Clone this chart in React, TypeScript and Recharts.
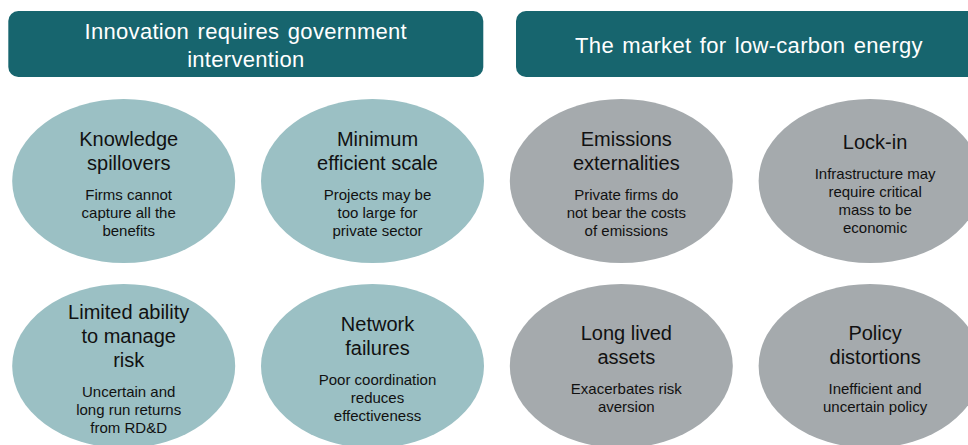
import { ScatterChart, Scatter, XAxis, YAxis, ReferenceArea } from "recharts";

// two groups of market failures, four ovals each
const groupLines = [
  ["Innovation requires government", "intervention"],
  ["The market for low-carbon energy"],
];

const causeTitles = [
  ["Knowledge", "spillovers"],
  ["Minimum", "efficient scale"],
  ["Emissions", "externalities"],
  ["Lock-in"],
  ["Limited ability", "to manage", "risk"],
  ["Network", "failures"],
  ["Long lived", "assets"],
  ["Policy", "distortions"],
];

const causeNotes = [
  ["Firms cannot", "capture all the", "benefits"],
  ["Projects may be", "too large for", "private sector"],
  ["Private firms do", "not bear the costs", "of emissions"],
  ["Infrastructure may", "require critical", "mass to be", "economic"],
  ["Uncertain and", "long run returns", "from RD&D"],
  ["Poor coordination", "reduces", "effectiveness"],
  ["Exacerbates risk", "aversion"],
  ["Inefficient and", "uncertain policy"],
];

const causeGroup = [0, 0, 1, 1, 0, 0, 1, 1];
const causeCol = [0, 1, 2, 3, 0, 1, 2, 3];
const causeRow = [0, 0, 0, 0, 1, 1, 1, 1];

const data = causeTitles.map((title, i) => ({
  col: causeCol[i],
  row: causeRow[i],
  title,
  note: causeNotes[i],
  group: causeGroup[i],
}));

const FONT = "'Liberation Sans', Arial, sans-serif";
const HEADER = "#17656e";
const TEAL = "#9bc0c4";
const GREY = "#a5aaad";

function CauseShape(props: any) {
  const { cx, cy, payload, fill } = props;
  const title: string[] = payload.title;
  const note: string[] = payload.note;
  const span = (title.length - 1) * 24 + 30 + (note.length - 1) * 18;
  const first = cy + 9.5 - span / 2;
  const tx = cx + 5;
  return (
    <g>
      <ellipse cx={cx} cy={cy} rx={111.5} ry={82} fill={fill} />
      {title.map((t, i) => (
        <text key={"t" + i} x={tx} y={first + i * 24} textAnchor="middle" fontFamily={FONT} fontSize={20} fill="#111">
          {t}
        </text>
      ))}
      {note.map((t, i) => (
        <text
          key={"n" + i}
          x={tx}
          y={first + (title.length - 1) * 24 + 30 + i * 18}
          textAnchor="middle"
          fontFamily={FONT}
          fontSize={15}
          fill="#111"
        >
          {t}
        </text>
      ))}
    </g>
  );
}

function headerShape(lines: string[]) {
  return (props: any) => {
    const { x, y, width, height } = props;
    const mid = y + height / 2;
    const start = mid + 8.8 - ((lines.length - 1) * 27.7) / 2;
    return (
      <g>
        <rect x={x} y={y} width={width} height={height} rx={10} fill={HEADER} />
        {lines.map((l, i) => (
          <text
            key={i}
            x={x + width / 2}
            y={start + i * 27.7}
            textAnchor="middle"
            fontFamily={FONT}
            fontSize={22}
            letterSpacing={0.3}
            wordSpacing={2}
            fill="#ffffff"
          >
            {l}
          </text>
        ))}
      </g>
    );
  };
}

export default function App() {
  return (
    <div style={{ position: "absolute", left: 0, top: 0, background: "#fff" }}>
      <ScatterChart width={968} height={445} margin={{ top: 0, right: 0, bottom: 0, left: 0 }}>
        <XAxis type="number" dataKey="col" domain={[-0.4972, 3.3935]} hide />
        <YAxis type="number" dataKey="row" domain={[-0.9784, 1.427]} reversed hide />
        <ReferenceArea
          x1={-0.4638}
          x2={1.4453}
          y1={-0.9189}
          y2={-0.5622}
          ifOverflow="visible"
          shape={headerShape(groupLines[0])}
        />
        <ReferenceArea
          x1={1.5768}
          x2={3.4497}
          y1={-0.9189}
          y2={-0.5622}
          ifOverflow="visible"
          shape={headerShape(groupLines[1])}
        />
        <Scatter
          data={data.filter((d) => d.group === 0)}
          fill={TEAL}
          shape={CauseShape}
          isAnimationActive={false}
        />
        <Scatter
          data={data.filter((d) => d.group === 1)}
          fill={GREY}
          shape={CauseShape}
          isAnimationActive={false}
        />
      </ScatterChart>
    </div>
  );
}
